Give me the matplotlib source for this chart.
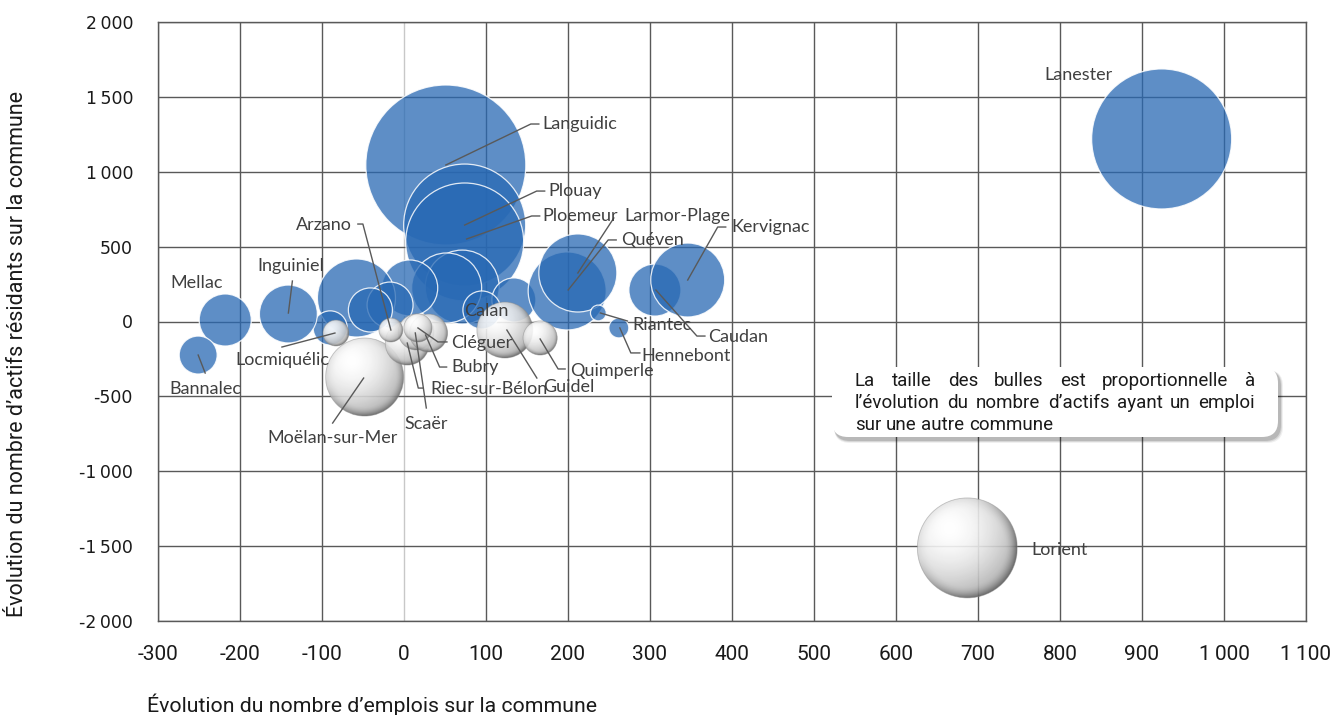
import matplotlib.pyplot as plt
import numpy as np
from matplotlib.font_manager import FontProperties
from matplotlib.patches import Ellipse, FancyBboxPatch
from matplotlib.transforms import IdentityTransform

# --- data -------------------------------------------------------------
# positive bubbles (blue) then negative bubbles (white spheres), in draw order
communes = ["Lanester", "Languidic", "Plouay", "Ploemeur", "", "", "", "", "", "",
            "", "", "Calan", "Quéven", "Larmor-Plage", "Caudan", "Kervignac",
            "Riantec", "Hennebont", "Mellac", "Bannalec", "Inguiniel",
            "Moëlan-sur-Mer", "Locmiquélic", "Riec-sur-Bélon", "Scaër", "Bubry",
            "Cléguer", "Arzano", "Guidel", "Quimperle", "Lorient"]
evol_emplois = [924, 51, 74, 74, 71, 52, 7, -58, -17, -41,
                -90, 134, 95, 199, 212, 306, 346,
                237, 262, -218, -251, -141,
                -48, -83, 4, 15, 30,
                17, -16, 123, 166, 687]
evol_actifs = [1219, 1045, 644, 531, 230, 224, 224, 157, 110, 77,
               -43, 144, 77, 204, 324, 210, 277,
               57, -43, 10, -224, 50,
               -371, -77, -144, -70, -77,
               -43, -57, -57, -110, -1512]
evol_navetteurs = [789, 1030, 599, 560, 220, 197, 126, 245, 85, 78,
                   47, 78, 58, 245, 245, 109, 220,
                   10, 16, 109, 58, 135,
                   -245, -27, -78, -52, -58,
                   -32, -23, -126, -47, -402]

x_ticks = list(range(-300, 1101, 100))
x_ticklabels = ["-300", "-200", "-100", "0", "100", "200", "300", "400", "500",
                "600", "700", "800", "900", "1\u2009000", "1\u2009100"]
y_ticks = list(range(-2000, 2001, 500))
y_ticklabels = ["-2\u2009000", "-1\u2009500", "-1\u2009000", "-500", "0", "500",
                "1\u2009000", "1\u2009500", "2\u2009000"]

note_lines = ["La taille des bulles est proportionnelle à",
              "l’évolution du nombre d’actifs ayant un emploi",
              "sur une autre commune"]

# label placement: text offset (px from bubble centre), alignment, leader path (px)
label_layout = {
    "Lanester": ((-83, 64), "center", None),
    "Languidic": ((97, 41), "left", [(0, 0), (85, 41), (93, 41)]),
    "Plouay": ((84, 34), "left", [(0, 0), (72, 34), (80, 34)]),
    "Ploemeur": ((78, 26), "left", [(2, 3), (67, 26), (75, 26)]),
    "Larmor-Plage": ((47, 57), "left", [(0, 0), (36, 55)]),
    "Quéven": ((54, 51), "left", [(1, 1), (41, 51), (49, 51)]),
    "Kervignac": ((44, 53), "left", [(0, 0), (30, 53), (38, 53)]),
    "Caudan": ((53, -47), "left", [(1, 0), (42, -46), (50, -46)]),
    "Riantec": ((34, -12), "left", [(2, 0), (29, -8)]),
    "Hennebont": ((23, -28), "left", [(1, 0), (12, -25), (21, -25)]),
    "Calan": ((4, -1), "center", None),
    "Guidel": ((38, -57), "left", [(2, 0), (32, -48)]),
    "Quimperle": ((30, -33), "left", [(0, -1), (18, -31), (25, -31)]),
    "Cléguer": ((33, -15), "left", [(0, 0), (20, -14), (29, -14)]),
    "Bubry": ((23, -34), "left", [(-3, -2), (11, -34), (18, -34)]),
    "Riec-sur-Bélon": ((23, -46), "left", [(0, 0), (11, -45), (16, -45)]),
    "Scaër": ((10, -92), "center", [(-1, -1), (10, -76)]),
    "Arzano": ((-39, 105), "right", [(0, 0), (-28, 106), (-33, 106)]),
    "Moëlan-sur-Mer": ((-32, -61), "center", [(-1, -1), (-32, -46)]),
    "Locmiquélic": ((-54, -27), "center", [(-1, 0), (-54, -14)]),
    "Inguiniel": ((2, 48), "center", [(0, 1), (4, 33)]),
    "Mellac": ((-29, 37), "center", None),
    "Bannalec": ((7, -34), "center", [(0, 0), (7, -18)]),
    "Lorient": ((64, -2), "left", None),
}

R_MAX = 80  # pixel radius of the largest bubble
BLUE = (40 / 255, 105 / 255, 180 / 255, 0.75)
TXT = "#404040"

# --- figure -----------------------------------------------------------
W, H = 1336, 715
fig = plt.figure(figsize=(W / 100, H / 100), dpi=100)
ax = fig.add_axes([158 / W, 1 - 621 / H, (1306 - 158) / W, (621 - 22) / H])
ax.set_xlim(-300, 1100)
ax.set_ylim(-2000, 2000)
ax.set_xticks(x_ticks)
ax.set_yticks(y_ticks)
ax.set_xticklabels(x_ticklabels, fontfamily="Roboto", fontsize=15, color="#1a1a1a")
ax.set_yticklabels(y_ticklabels, fontfamily="DejaVu Sans", fontsize=12.5, color="#1a1a1a")
ax.tick_params(length=0, pad=18)
ax.tick_params(axis="x", pad=17)
ax.grid(True, color="#595959", lw=1.0)
ax.set_axisbelow(True)
ax.get_xgridlines()[3].set_color("#c8c8c8")
for s in ax.spines.values():
    s.set_color("#595959")
    s.set_linewidth(1.0)

# pixel -> data scale
bb = ax.get_window_extent()
ppx = bb.width / 1400.0
ppy = bb.height / 4000.0

# sphere texture for negative bubbles
n = 256
v, u = np.mgrid[-1:1:n * 1j, -1:1:n * 1j]
rr = np.hypot(u, v)
d = np.hypot(u + 0.35, v + 0.4)
g = 1.0 - 0.5 * np.clip(d / 1.8, 0, 1) ** 1.8
edge = np.clip((rr - 0.75) / 0.25, 0, 1) ** 2
g = g * (1 - 0.45 * edge * np.clip((u + v + 1.0) / 2.0, 0.15, 1))
sphere = np.dstack([g, g, g, np.full_like(g, 0.9)])

for name, x, y, s in zip(communes, evol_emplois, evol_actifs, evol_navetteurs):
    r = R_MAX * np.sqrt(abs(s) / max(abs(t) for t in evol_navetteurs))
    rx, ry = r / ppx, r / ppy
    if s > 0:
        ax.add_patch(Ellipse((x, y), 2 * rx, 2 * ry, facecolor=BLUE,
                             edgecolor=(1, 1, 1, 0.85), lw=0.9, zorder=2))
    else:
        clip = Ellipse((x, y), 2 * rx, 2 * ry, transform=ax.transData)
        im = ax.imshow(sphere, extent=(x - rx, x + rx, y - ry, y + ry),
                       origin="upper", aspect="auto", interpolation="bilinear",
                       zorder=3)
        im.set_clip_path(clip)
        ax.add_patch(Ellipse((x, y), 2 * rx, 2 * ry, facecolor="none",
                             edgecolor=(0.55, 0.55, 0.55, 0.5), lw=0.6, zorder=3))

ax.set_xlim(-300, 1100)
ax.set_ylim(-2000, 2000)

# labels and leader lines
for name, x, y in zip(communes, evol_emplois, evol_actifs):
    if name not in label_layout:
        continue
    (dx, dy), ha, leader = label_layout[name]
    ax.annotate(name, (x, y), xytext=(dx, dy), textcoords="offset pixels",
                ha=ha, va="center", fontfamily="Lato", fontsize=13,
                color=TXT, zorder=6)
    if leader:
        lx = [x + px / ppx for px, py in leader]
        ly = [y + py / ppy for px, py in leader]
        ax.plot(lx, ly, color="#595959", lw=1.0, zorder=5)

# axis titles
fig.text(18 / W, 1 - 354 / H, "Évolution du nombre d’actifs résidants sur la commune",
         rotation=90, ha="center", va="center", fontfamily="Roboto", fontsize=15.5,
         color="#1a1a1a")
fig.text(147 / W, 1 - 705 / H, "Évolution du nombre d’emplois sur la commune",
         ha="left", va="center", fontfamily="Roboto", fontsize=15.3, color="#1a1a1a")

# note box with shadow
bx, by, bw, bh = 832, H - 437, 446, 70
for k, a in [(6, 0.06), (4, 0.1), (2, 0.14)]:
    fig.add_artist(FancyBboxPatch((bx + 2, by - 3 - k / 2), bw + k / 2, bh + k / 2,
                                  boxstyle="round,pad=0,rounding_size=16",
                                  transform=IdentityTransform(), facecolor="black",
                                  edgecolor="none", alpha=a, zorder=7))
fig.add_artist(FancyBboxPatch((bx, by), bw, bh, boxstyle="round,pad=0,rounding_size=16",
                              transform=IdentityTransform(), facecolor="white",
                              edgecolor="none", zorder=8))

renderer = fig.canvas.get_renderer()
note_font = FontProperties(family="Roboto", size=13.5)


def text_width(txt):
    w_, _, _ = renderer.get_text_width_height_descent(txt, note_font, ismath=False)
    return w_


x0, x1 = 855, 1255
space_w = text_width("a b") - text_width("ab")
for i, line in enumerate(note_lines):
    ypix = H - (381 + 22 * i)
    words = line.split(" ")
    widths = [text_width(w_) for w_ in words]
    if i < len(note_lines) - 1:
        gap = (x1 - x0 - sum(widths)) / (len(words) - 1)
    else:
        gap = space_w
    xpos = x0
    for w_, wd in zip(words, widths):
        fig.text(xpos, ypix, w_, fontproperties=note_font, color="#1a1a1a",
                 ha="left", va="center", transform=IdentityTransform(), zorder=9)
        xpos += wd + gap

fig.savefig("out.png", dpi=100)
